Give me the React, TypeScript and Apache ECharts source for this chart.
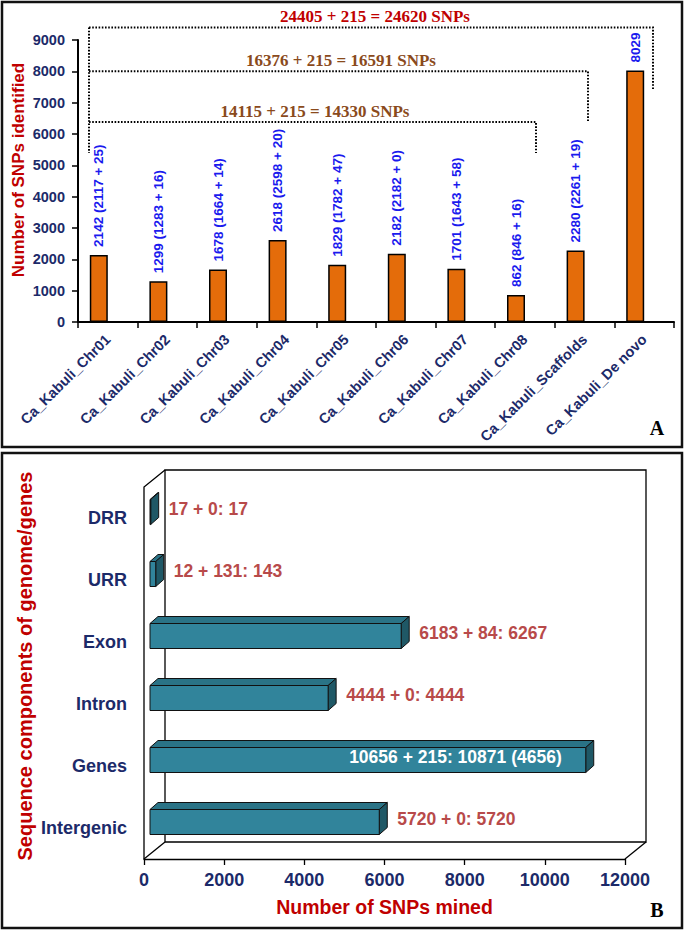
import React, { useEffect, useRef } from 'react';
import * as echarts from 'echarts';

// ---------- Panel A data ----------
const chrCategories = [
  'Ca_Kabuli_Chr01', 'Ca_Kabuli_Chr02', 'Ca_Kabuli_Chr03', 'Ca_Kabuli_Chr04', 'Ca_Kabuli_Chr05',
  'Ca_Kabuli_Chr06', 'Ca_Kabuli_Chr07', 'Ca_Kabuli_Chr08', 'Ca_Kabuli_Scaffolds', 'Ca_Kabuli_De novo',
];
const chrTotals = [2142, 1299, 1678, 2618, 1829, 2182, 1701, 862, 2280, 8029];
const chrFirst = [2117, 1283, 1664, 2598, 1782, 2182, 1643, 846, 2261, null];
const chrSecond = [25, 16, 14, 20, 47, 0, 58, 16, 19, null];
const yMaxA = 9000;
const yIntervalA = 1000;
const bracketTexts = ['24405 + 215 = 24620 SNPs', '16376 + 215 = 16591 SNPs', '14115 + 215 = 14330 SNPs'];
const bracketLevels = [9400, 8000, 6380];

// ---------- Panel B data ----------
const segCategories = ['DRR', 'URR', 'Exon', 'Intron', 'Genes', 'Intergenic'];
const segFirst = [17, 12, 6183, 4444, 10656, 5720];
const segSecond = [0, 131, 84, 0, 215, 0];
const segTotal = [17, 143, 6267, 4444, 10871, 5720];
const segExtra = [null, null, null, null, 4656, null];
const xMaxB = 12000;
const xIntervalB = 2000;

const SANS = '"Liberation Sans", Arial, sans-serif';
const SERIF = '"Liberation Serif", "Times New Roman", serif';
const NAVY = '#1c2a69';
const RED = '#c00000';
const BROWN = '#8a4a1c';

export default function App() {
  const ref = useRef<HTMLDivElement>(null);

  useEffect(() => {
    if (!ref.current) return;
    const chart = echarts.init(ref.current, undefined, { renderer: 'svg' });

    // grid A geometry
    const aL = 78, aR = 674, aT = 40, aB = 322;
    const yPix = (v: number) => aB - (v / yMaxA) * (aB - aT);
    // grid B geometry (front plane)
    const bL = 144, bR = 625, bT = 487, bB = 859;
    const wdx = 21, wdy = 17;

    const dotted = { stroke: '#000', lineWidth: 2, lineDash: [1.6, 1.6], fill: 'none' };
    const bracketRight = [653, 588, 536];
    const bracketBottom = [90, 121, 153];
    const bracketCx = [375, 341, 315];
    const bracketColors = [RED, BROWN, BROWN];

    const graphics: any[] = [
      { type: 'rect', shape: { x: 2, y: 2, width: 680, height: 445 }, style: { fill: 'none', stroke: '#111', lineWidth: 2.5 }, z: 0 },
      { type: 'rect', shape: { x: 2, y: 453, width: 680, height: 475 }, style: { fill: 'none', stroke: '#111', lineWidth: 2.5 }, z: 0 },
      { type: 'polyline', shape: { points: [[89, yPix(bracketLevels[0])], [89, 153]] }, style: dotted, z: 5 },
      { type: 'text', x: 18, y: 170, rotation: Math.PI / 2, style: { text: 'Number of SNPs identified', x: 0, y: 0, align: 'center', verticalAlign: 'middle', fill: RED, font: `bold 17px ${SANS}` }, z: 10 },
      { type: 'text', x: 25, y: 666, rotation: Math.PI / 2, style: { text: 'Sequence components of genome/genes', x: 0, y: 0, align: 'center', verticalAlign: 'middle', fill: RED, font: `bold 20px ${SANS}` }, z: 10 },
      { type: 'text', style: { text: 'A', x: 657, y: 428, align: 'center', verticalAlign: 'middle', fill: '#000', font: `bold 20px ${SERIF}` }, z: 10 },
      { type: 'text', style: { text: 'B', x: 657, y: 910, align: 'center', verticalAlign: 'middle', fill: '#000', font: `bold 20px ${SERIF}` }, z: 10 },
      // 3D walls for panel B
      { type: 'polygon', shape: { points: [[bL + wdx, bT - wdy], [bR + wdx, bT - wdy], [bR + wdx, bB - wdy], [bL + wdx, bB - wdy]] }, style: { fill: '#fff', stroke: '#000', lineWidth: 1.3 }, z: 0 },
      { type: 'polyline', shape: { points: [[bL, bB], [bL, bT], [bL + wdx, bT - wdy]] }, style: { fill: 'none', stroke: '#000', lineWidth: 1.3 }, z: 1 },
      { type: 'polyline', shape: { points: [[bL, bB], [bL + wdx, bB - wdy]] }, style: { fill: 'none', stroke: '#000', lineWidth: 1.3 }, z: 1 },
      { type: 'polyline', shape: { points: [[bR, bB], [bR + wdx, bB - wdy]] }, style: { fill: 'none', stroke: '#000', lineWidth: 1.3 }, z: 1 },
    ];

    bracketTexts.forEach((t, i) => {
      const ly = yPix(bracketLevels[i]);
      graphics.push({ type: 'polyline', shape: { points: [[89, ly], [bracketRight[i], ly], [bracketRight[i], bracketBottom[i]]] }, style: dotted, z: 5 });
      graphics.push({ type: 'text', style: { text: t, x: bracketCx[i], y: ly - 11, align: 'center', verticalAlign: 'middle', fill: bracketColors[i], font: `bold 17px ${SERIF}` }, z: 10 });
    });

    const plain = (v: number) => String(v);

    const option: any = {
      animation: false,
      backgroundColor: '#fff',
      grid: [
        { left: aL, right: 685 - aR, top: aT, bottom: 930 - aB },
        { left: bL, right: 685 - bR, top: bT, bottom: 930 - bB },
      ],
      xAxis: [
        {
          gridIndex: 0, type: 'category', data: chrCategories,
          axisLine: { show: true, lineStyle: { color: '#000', width: 2 } },
          axisTick: { show: true, length: 6, lineStyle: { color: '#000', width: 1.5 } },
          axisLabel: { rotate: 45, interval: 0, color: NAVY, fontWeight: 'bold', fontSize: 14.5, fontFamily: SANS, margin: 15 },
        },
        {
          gridIndex: 1, type: 'value', min: 0, max: xMaxB, interval: xIntervalB,
          axisLine: { show: true, lineStyle: { color: '#000', width: 1.3 } },
          axisTick: { show: true, length: 6, lineStyle: { color: '#000', width: 1.3 } },
          splitLine: { show: false },
          axisLabel: { color: NAVY, fontWeight: 'bold', fontSize: 18, fontFamily: SANS, margin: 12, formatter: plain },
          name: 'Number of SNPs mined', nameLocation: 'middle', nameGap: 38,
          nameTextStyle: { color: RED, fontWeight: 'bold', fontSize: 19.5, fontFamily: SANS },
        },
      ],
      yAxis: [
        {
          gridIndex: 0, type: 'value', min: 0, max: yMaxA, interval: yIntervalA,
          axisLine: { show: true, lineStyle: { color: '#000', width: 2 } },
          axisTick: { show: true, length: 6, lineStyle: { color: '#000', width: 1.5 } },
          splitLine: { show: false },
          axisLabel: { color: NAVY, fontWeight: 'bold', fontSize: 14.5, fontFamily: SANS, margin: 13, formatter: plain },
        },
        {
          gridIndex: 1, type: 'category', data: segCategories, inverse: true,
          axisLine: { show: false }, axisTick: { show: false },
          axisLabel: { color: NAVY, fontWeight: 'bold', fontSize: 18, fontFamily: SANS, margin: 17 },
        },
      ],
      graphic: { elements: graphics },
      series: [
        {
          type: 'bar', xAxisIndex: 0, yAxisIndex: 0, data: chrTotals,
          barWidth: 18, barGap: '0%',
          itemStyle: { color: '#e46c0a', borderColor: '#000', borderWidth: 1.5 },
          label: {
            show: true, position: 'top', rotate: 90, align: 'left', verticalAlign: 'middle', distance: 8,
            color: '#1a1aee', fontSize: 13.5, fontWeight: 'bold', fontFamily: SANS,
            formatter: (p: any) => {
              const i = p.dataIndex;
              if (chrFirst[i] == null) return `${chrTotals[i]}`;
              return `${chrTotals[i]} (${chrFirst[i]} + ${chrSecond[i]})`;
            },
          },
          z: 3,
        },
        {
          type: 'bar', xAxisIndex: 0, yAxisIndex: 0, data: chrTotals.map(() => '-'),
          barWidth: 18, barGap: '0%',
        },
        {
          type: 'custom', xAxisIndex: 1, yAxisIndex: 1,
          data: segTotal.map((v, i) => [v, i]),
          encode: { x: 0, y: 1 },
          z: 4,
          renderItem: (params: any, api: any) => {
            const i = params.dataIndex;
            const val = api.value(0);
            const idx = api.value(1);
            const p0 = api.coord([0, idx]);
            const p1 = api.coord([val, idx]);
            const c = p0[1] - 6;
            const h = 25;
            const dx = 8, dy = 7;
            const x0 = p0[0] + 6, x1 = p1[0] + 6;
            const y0 = c - h / 2, y1 = c + h / 2;
            const stroke = { stroke: '#111', lineWidth: 1 };
            const inside = segExtra[i] != null;
            const text = `${segFirst[i]} + ${segSecond[i]}: ${segTotal[i]}` + (inside ? ` (${segExtra[i]})` : '');
            return {
              type: 'group',
              children: [
                { type: 'polygon', shape: { points: [[x0, y0], [x0 + dx, y0 - dy], [x1 + dx, y0 - dy], [x1, y0]] }, style: { fill: '#2a7386', ...stroke } },
                { type: 'polygon', shape: { points: [[x1, y0], [x1 + dx, y0 - dy], [x1 + dx, y1 - dy], [x1, y1]] }, style: { fill: '#1f5866', ...stroke } },
                { type: 'rect', shape: { x: x0, y: y0, width: Math.max(x1 - x0, 0.5), height: h }, style: { fill: '#31849b', ...stroke } },
                {
                  type: 'text',
                  style: {
                    text,
                    x: inside ? x1 - 24 : x1 + dx + 10,
                    y: c - 3,
                    align: inside ? 'right' : 'left',
                    verticalAlign: 'middle',
                    fill: inside ? '#ffffff' : '#b84a4a',
                    font: `bold 17.5px ${SANS}`,
                  },
                },
              ],
            };
          },
        },
      ],
    };

    chart.setOption(option);
    return () => chart.dispose();
  }, []);

  return (
    <div style={{ position: 'fixed', left: 0, top: 0, width: 685, height: 930, background: '#fff' }}>
      <div ref={ref} style={{ width: 685, height: 930 }} />
    </div>
  );
}
